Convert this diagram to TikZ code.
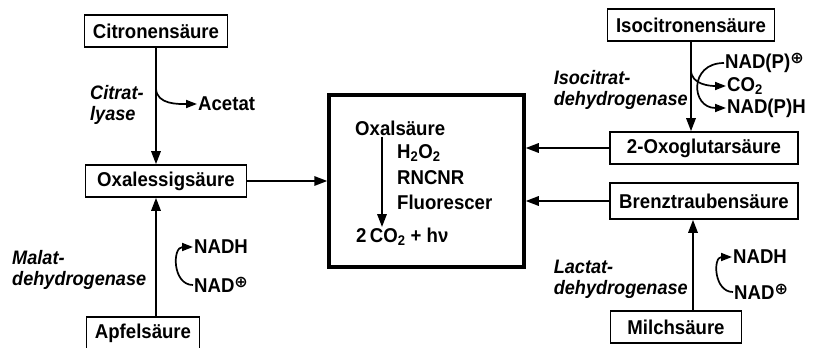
\documentclass[tikz,border=0pt]{standalone}
\usepackage{fontspec}
\setmainfont{Liberation Sans}[FakeStretch=0.93]
\newfontfamily\dejavu{DejaVu Sans}
\usetikzlibrary{arrows.meta}

\newcommand{\stofffont}{\bfseries\fontsize{20}{22}\selectfont}
\newcommand{\enzymfont}{\bfseries\itshape\fontsize{19.5}{21}\selectfont}
\newcommand{\plusc}{\raisebox{.5ex}{\dejavu\bfseries\fontsize{16}{16}\selectfont ⊕}}

\tikzset{
  stoff/.style={draw, line width=1.7pt, minimum height=32pt, inner xsep=8pt, font=\stofffont},
  enzym/.style={align=left, inner sep=0pt, font=\enzymfont},
  cofak/.style={anchor=west, inner sep=1pt, font=\stofffont},
  pfeil/.style={line width=1.7pt, -{Triangle[length=13pt,width=9.5pt]}},
  bogen/.style={line width=1.7pt, -{Triangle[length=11pt,width=8pt]}}
}

\begin{document}
\begin{tikzpicture}[x=1pt, y=-1pt]
    \useasboundingbox (0,0) rectangle (820,348);

    % Left side
    \node[stoff, minimum width=143pt] (cit) at (156,31) {Citronensäure};
    \node[stoff, minimum width=161pt] (oxal) at (166,181) {Oxalessigsäure};
    \node[stoff, minimum width=113pt] (apfel) at (143,333) {Apfelsäure};
    \node[cofak] (acetat) at (197,104) {Acetat};
    \node[enzym, anchor=west] (citly) at (90,105) {Citrat-\\lyase};
    \node[enzym, anchor=west] (malat) at (12,270) {Malat-\\dehydrogenase};
    \node[cofak] (nadhl) at (193,247) {NADH};
    \node[cofak] (nadl) at (193,285) {NAD\plusc};
    \coordinate (citbr) at (156,88);

    % Reaction box
    \node[draw, line width=3.5pt, minimum width=195pt, minimum height=172pt] (box) at (426.5,181) {};
    \node[cofak] (oxs) at (354,128) {Oxalsäure};
    \node[cofak] (h2o2) at (396,153) {H\textsubscript{2}O\textsubscript{2}};
    \node[cofak] (rncnr) at (396,178) {RNCNR};
    \node[cofak] (fluor) at (396,202) {Fluorescer};
    \node[cofak] (prod) at (355,237) {2\,CO\textsubscript{2} + hν};

    % Right side
    \node[stoff, minimum width=167pt] (iso) at (691,25) {Isocitronensäure};
    \node[stoff, minimum width=188pt] (oxo) at (704,148) {2-Oxoglutarsäure};
    \node[stoff, minimum width=188pt, minimum height=36pt] (brenz) at (704,201) {Brenztraubensäure};
    \node[stoff, minimum width=131pt] (milch) at (676,327) {Milchsäure};
    \node[enzym, anchor=east] (isoenz) at (688,90) {Isocitrat-\\dehydrogenase};
    \node[enzym, anchor=east] (lacenz) at (688,279) {Lactat-\\dehydrogenase};
    \node[cofak] (nadp) at (724,63) {NAD(P)\plusc};
    \node[cofak] (co2) at (726,86) {CO\textsubscript{2}};
    \node[cofak] (nadph) at (726,108) {NAD(P)H};
    \node[cofak] (nadhr) at (732,257) {NADH};
    \node[cofak] (nadr) at (733,292) {NAD\plusc};
    \coordinate (isobr) at (691,70);

    % Arrows
    \draw[pfeil] (cit) -- (oxal.north -| cit.south);
    \draw[bogen] (citbr) to[out=-90, in=180] (acetat.west);
    \draw[pfeil] (apfel.north -| cit.south) -- (oxal.south -| cit.south);
    \draw[bogen] (nadl.west) to[out=180, in=180, looseness=1.4] (nadhl.west);
    \draw[pfeil] (oxal.east) -- (box.west);
    \draw[pfeil] ([xshift=28pt]oxs.south west) -- ([xshift=27pt]prod.north west);
    \draw[pfeil] (iso) -- (oxo.north -| iso.south);
    \draw[bogen] (isobr) to[out=-90, in=180] (co2.west);
    \draw[bogen] (nadp.west) to[out=180, in=180, looseness=2] (nadph.west);
    \draw[pfeil] (oxo.west) -- (oxo.west -| box.east);
    \draw[pfeil] (brenz.west) -- (brenz.west -| box.east);
    \draw[pfeil] ([xshift=17pt]milch.north) -- ([xshift=-11pt]brenz.south);
    \draw[bogen] (nadr.west) to[out=180, in=180, looseness=1.4] (nadhr.west);
\end{tikzpicture}
\end{document}
